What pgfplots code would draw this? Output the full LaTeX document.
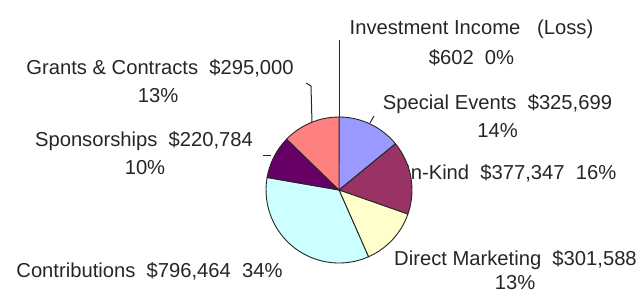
\documentclass[border=0pt]{standalone}
\usepackage{pgfplots}
\pgfplotsset{compat=1.18}
\usepackage{pgfplotstable}
\usepackage{fontspec}
\setmainfont{Liberation Sans}
\definecolor{cInv}{HTML}{9999FF}
\definecolor{cSpec}{HTML}{9999FF}
\definecolor{cKind}{HTML}{993366}
\definecolor{cDM}{HTML}{FFFFCC}
\definecolor{cContr}{HTML}{CCFFFF}
\definecolor{cSpons}{HTML}{660066}
\definecolor{cGrant}{HTML}{FF8080}
\definecolor{txt}{HTML}{262626}
\newcommand\lblfont{\fontsize{20.2bp}{24bp}\selectfont}
\tikzset{lbl/.style={font=\lblfont, text=txt, inner sep=0pt}}

% revenue by source, clockwise from 12 o'clock
\pgfplotstableread{
value color
602 cInv
325699 cSpec
377347 cKind
301588 cDM
796464 cContr
220784 cSpons
295000 cGrant
}\pietable

\begin{document}
\begin{tikzpicture}
% compute slice angles from the data
\gdef\pietotal{0}
\pgfplotsforeachungrouped \i in {0,...,6}{%
  \pgfplotstablegetelem{\i}{value}\of\pietable
  \xdef\pietotal{\fpeval{\pietotal+\pgfplotsretval}}%
}
\gdef\piecum{0}
\pgfplotsforeachungrouped \i in {0,...,6}{%
  \pgfplotstablegetelem{\i}{value}\of\pietable
  \expandafter\xdef\csname pieA\i\endcsname{\fpeval{90-360*\piecum/\pietotal}}%
  \xdef\piecum{\fpeval{\piecum+\pgfplotsretval}}%
  \expandafter\xdef\csname pieB\i\endcsname{\fpeval{90-360*\piecum/\pietotal}}%
  \pgfplotstablegetelem{\i}{color}\of\pietable
  \expandafter\xdef\csname pieC\i\endcsname{\pgfplotsretval}%
}
\begin{axis}[
  scale only axis, width=644bp, height=293bp,
  xmin=0, xmax=644, ymin=0, ymax=293, y dir=reverse,
  axis lines=none, clip=false,
]
% labels
\node[lbl, anchor=base] at (axis cs:471.5,34) {Investment Income~~~(Loss)};
\node[lbl, anchor=base] at (axis cs:471.5,64) {\$602~~0\%};
\node[lbl, anchor=base] at (axis cs:160,74) {Grants \& Contracts~~\$295,000};
\node[lbl, anchor=base] at (axis cs:158,102) {13\%};
\node[lbl, anchor=base] at (axis cs:497.5,109) {Special Events~~\$325,699};
\node[lbl, anchor=base] at (axis cs:497.5,137) {14\%};
\node[lbl, anchor=base] at (axis cs:144,146) {Sponsorships~~\$220,784};
\node[lbl, anchor=base] at (axis cs:145,174) {10\%};
\node[lbl, anchor=base west] at (axis cs:405,179) {In-Kind~~\$377,347~~16\%};
\node[lbl, anchor=base] at (axis cs:515.5,265) {Direct Marketing~~\$301,588};
\node[lbl, anchor=base] at (axis cs:515,289) {13\%};
\node[lbl, anchor=base] at (axis cs:149.5,277) {Contributions~~\$796,464~~34\%};
% leader lines
\draw[black!85, line width=1bp] (axis cs:339,117) -- (axis cs:339,40);
\draw[black!85, line width=1bp] (axis cs:312,123) -- (axis cs:311,86) -- (axis cs:306,83);
\draw[black!85, line width=1bp] (axis cs:370,123) -- (axis cs:374,116);
\draw[black!85, line width=1bp] (axis cs:263,155) -- (axis cs:271,155);
% pie slices
\pgfplotsinvokeforeach{0,...,6}{
  \filldraw[fill=\csname pieC#1\endcsname, draw=black!85, line width=0.9bp, line join=round]
    (axis cs:339,190) -- ++(\csname pieA#1\endcsname:73bp)
    arc[start angle=\csname pieA#1\endcsname, end angle=\csname pieB#1\endcsname, radius=73bp] -- cycle;
}
\end{axis}
\pgfresetboundingbox
\useasboundingbox (0,0) rectangle (644bp,293bp);
\end{tikzpicture}
\end{document}
